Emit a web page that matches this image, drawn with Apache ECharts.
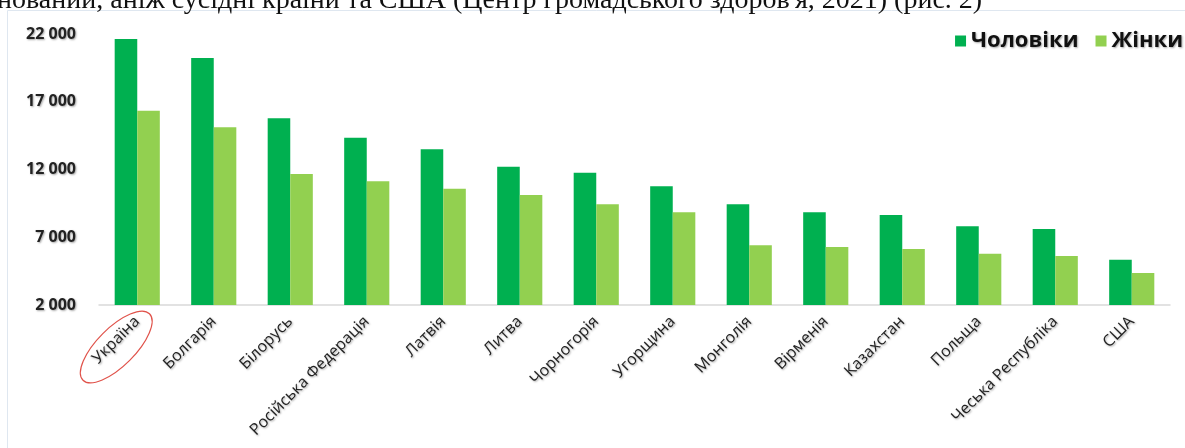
<!DOCTYPE html>
<html>
<head>
<meta charset="utf-8">
<script src="https://cdn.jsdelivr.net/npm/echarts@6/dist/echarts.min.js"></script>
<style>
html,body{margin:0;padding:0;background:#fff;}
#c{width:1185px;height:448px;}
</style>
</head>
<body>
<div id="c"></div>
<script>
const categories = ['Україна','Болгарія','Білорусь','Російська Федерація','Латвія','Литва','Чорногорія','Угорщина','Монголія','Вірменія','Казахстан','Польща','Чеська Республіка','США'];
const men   = [21630, 20230, 15780, 14350, 13490, 12210, 11760, 10760, 9430, 8840, 8640, 7810, 7610, 5340];
const women = [16340, 15110, 11670, 11130, 10580, 10120, 9430, 8840, 6410, 6280, 6130, 5790, 5620, 4360];
const yTicks = [2000, 7000, 12000, 17000, 22000];
const seriesNames = ['Чоловіки', 'Жінки'];
const captionText = "нований, аніж сусідні країни та США (Центр громадського здоров'я, 2021) (рис. 2)";

const chart = echarts.init(document.getElementById('c'), null, {renderer: 'canvas'});
const shadow = {textShadowColor: 'rgba(0,0,0,0.35)', textShadowBlur: 2, textShadowOffsetX: 1, textShadowOffsetY: 1};
chart.setOption({
  animation: false,
  backgroundColor: '#fff',
  grid: {left: 99, right: 15, top: 34, bottom: 143},
  legend: {
    data: seriesNames,
    right: 2, top: 30,
    icon: 'rect', itemWidth: 11, itemHeight: 11, itemGap: 17,
    textStyle: Object.assign({fontFamily: 'Open Sans', fontWeight: 'bold', fontSize: 22, color: '#111'}, shadow),
    padding: 0
  },
  xAxis: {
    type: 'category',
    data: categories,
    axisTick: {show: false},
    axisLine: {lineStyle: {color: '#d9d9d9', width: 1.5}},
    axisLabel: Object.assign({rotate: 45, interval: 0, fontFamily: 'Open Sans', fontSize: 16, color: '#222', margin: 14}, shadow)
  },
  yAxis: {
    type: 'value',
    min: yTicks[0], max: yTicks[yTicks.length - 1], interval: 5000,
    splitLine: {show: false},
    axisLine: {show: false},
    axisTick: {show: false},
    axisLabel: Object.assign({
      fontFamily: 'Open Sans', fontWeight: 'bold', fontSize: 16, color: '#222', margin: 23,
      formatter: v => String(v).replace(/\B(?=(\d{3})+(?!\d))/g, ' ')
    }, shadow)
  },
  series: [
    {name: seriesNames[0], type: 'bar', data: men, barGap: '0%', barCategoryGap: '41%', itemStyle: {color: '#00b050'}},
    {name: seriesNames[1], type: 'bar', data: women, barGap: '0%', barCategoryGap: '41%', itemStyle: {color: '#92d050'}}
  ]
});

const p = chart.convertToPixel({xAxisIndex: 0}, categories[0]);
const axisY = chart.convertToPixel({yAxisIndex: 0}, yTicks[0]);
chart.setOption({
  graphic: [
    {type: 'rect', shape: {x: 7.5, y: 10.5, width: 1300, height: 600}, style: {fill: 'none', stroke: '#dfe7f0', lineWidth: 1}, silent: true},
    {type: 'text', x: -3, y: 15, style: {text: captionText, fontFamily: 'Liberation Serif', fontSize: 28, fill: '#111', verticalAlign: 'bottom', align: 'left'}, silent: true},
    {type: 'ellipse', x: p - 21, y: axisY + 42, rotation: Math.PI / 4, shape: {cx: 0, cy: 0, rx: 47, ry: 19}, style: {fill: 'none', stroke: '#e0524a', lineWidth: 1.2}, silent: true}
  ]
});
</script>
</body>
</html>
